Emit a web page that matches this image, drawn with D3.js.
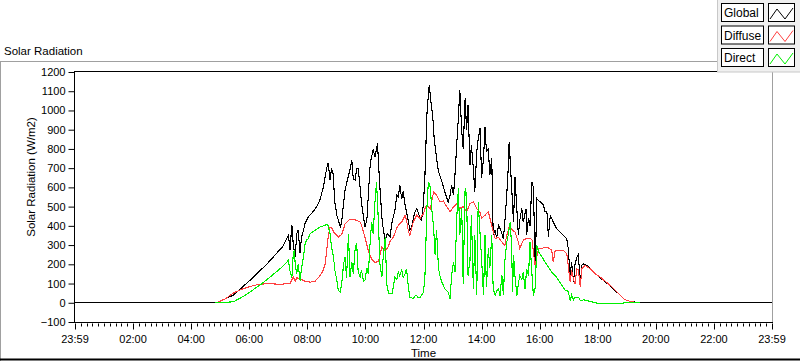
<!DOCTYPE html>
<html><head><meta charset="utf-8">
<script src="https://cdn.jsdelivr.net/npm/d3@7"></script>
<style>
html,body{margin:0;padding:0;background:#fff;}
svg{display:block;font-family:"Liberation Sans",Arial,sans-serif;}
</style></head>
<body><svg id="c" width="800" height="361"></svg>
<script>
// ---- data (time in minutes after midnight, values in W/m2) ----
const globalTime  = [0,290,293,327,362,396,430,441,444,448,451,455,458,461,465,468,472,475,482,489,499,506,513,520,523,527,530,533,537,541,544,548,551,555,558,561,565,568,572,575,579,582,585,589,592,596,599,603,606,610,613,616,620,625,629,634,637,641,645,651,655,661,665,668,671,675,678,682,685,689,692,696,699,702,706,709,713,716,720,723,727,730,732,735,737,740,742,747,751,754,758,764,771,775,778,782,785,789,792,795,799,802,806,809,812,816,819,823,826,830,833,837,840,844,847,850,854,857,861,864,868,871,875,878,882,885,888,892,895,897,901,906,909,913,916,919,923,926,932,933,937,940,944,947,951,954,958,961,968,971,975,978,982,988,995,1002,1009,1016,1019,1023,1026,1030,1033,1037,1040,1044,1047,1051,1057,1068,1085,1105,1123,1136,1147,1160,1167,1440];
const globalValue = [0,0,0,40,118,200,295,351,273,405,300,238,360,377,260,340,377,410,447,464,499,534,600,700,728,640,700,674,520,455,430,394,420,520,586,620,660,690,740,640,638,700,699,600,516,450,394,430,560,725,760,794,760,829,638,447,380,325,360,342,420,481,560,551,612,540,580,508,470,420,377,400,438,470,490,470,440,429,520,664,977,1080,1134,1050,1012,940,855,751,681,660,629,577,525,560,612,560,664,838,960,1108,890,800,1064,900,1029,716,820,700,577,786,850,908,650,751,916,786,800,664,751,351,380,334,403,386,360,334,420,560,700,838,650,420,655,480,351,430,490,420,490,351,440,400,629,600,177,542,530,525,508,473,473,342,455,420,386,368,351,334,282,142,212,107,200,238,250,90,195,203,195,168,130,90,47,16,7,3,0,0];

const diffuseTime  = [290,293,310,327,344,362,382,403,424,441,444,448,451,455,458,465,475,486,496,506,513,517,520,523,527,530,534,537,544,551,558,568,575,582,589,592,599,606,613,620,627,630,634,641,647,651,658,665,668,675,682,685,689,692,699,706,713,720,723,727,734,741,747,754,761,768,775,782,789,795,802,809,816,823,830,837,840,847,854,861,868,875,882,888,892,897,903,909,916,919,926,933,940,944,947,951,954,958,965,971,978,985,988,992,999,1009,1016,1019,1023,1026,1030,1033,1037,1040,1044,1047,1054,1064,1075,1085,1105,1123,1136,1147,1160,1167];
const diffuseValue = [0,0,20,50,70,85,97,99,96,100,99,120,134,110,130,125,112,107,112,140,170,203,270,342,394,390,370,360,342,355,410,435,432,429,420,403,340,270,225,210,215,250,290,270,290,320,342,390,403,420,455,430,368,351,420,455,438,464,490,508,490,577,560,525,530,499,473,499,516,490,500,473,516,525,490,470,438,455,473,403,334,340,316,299,351,394,380,368,316,282,325,334,334,330,264,186,240,282,282,290,285,273,212,270,273,273,256,195,107,170,120,99,177,170,81,177,195,177,151,134,92,48,16,7,2,0];

const directTime  = [290,293,327,345,366,386,407,428,441,444,448,451,453,455,458,461,465,468,472,475,478,482,486,496,506,517,520,523,527,530,534,537,541,544,548,551,555,558,561,565,568,572,575,579,582,585,589,592,596,599,603,606,610,613,616,620,623,627,630,634,637,641,644,648,651,655,658,661,665,668,671,675,678,682,685,689,692,699,702,706,709,713,716,720,723,727,730,734,737,741,744,747,751,754,758,764,771,775,778,782,785,789,792,795,799,802,806,809,812,816,819,823,826,830,833,837,840,844,847,850,854,857,861,864,868,871,875,878,882,885,888,892,895,899,902,904,906,909,913,916,919,923,926,930,933,937,940,944,947,951,954,958,965,971,978,985,992,999,1006,1013,1019,1023,1026,1030,1033,1040,1044,1051,1057,1078,1105,1126,1140,1160,1167];
const directValue = [0,0,5,29,64,99,142,186,221,168,130,260,273,200,151,200,116,180,238,300,325,334,360,377,394,403,408,400,360,290,238,168,116,64,55,100,203,238,130,360,134,210,150,290,308,160,134,170,110,116,180,150,325,420,360,534,630,412,203,134,250,342,99,47,50,47,90,134,120,160,140,170,130,150,177,73,29,21,35,38,25,29,40,55,142,490,629,600,490,386,247,380,177,140,107,73,55,21,142,212,160,455,595,351,490,100,595,560,142,220,455,73,351,38,525,351,229,38,351,80,282,180,351,73,38,60,73,38,142,38,212,316,351,420,300,55,247,140,38,100,142,120,160,70,177,140,316,150,38,80,299,264,238,212,186,160,142,116,90,64,60,12,40,15,29,29,12,15,12,-2,-5,-5,2,2,0];

const yTicks = [-100,0,100,200,300,400,500,600,700,800,900,1000,1100,1200];
const xTickMinutes = [0,120,240,360,480,600,720,840,960,1080,1200,1320,1440];
const xTickLabels = ["23:59","02:00","04:00","06:00","08:00","10:00","12:00","14:00","16:00","18:00","20:00","22:00","23:59"];
const legendNames = ["Global","Diffuse","Direct"];
const seriesColors = ["#000000","#ff4040","#00f000"];

// ---- drawing ----
const svg = d3.select("#c");
const L = 75, R = 772, T = 72, B = 322;
const x = d3.scaleLinear().domain([0,1440]).range([L,R]);
const y = d3.scaleLinear().domain([-100,1200]).range([B,T]);

// outer frame
svg.append("line").attr("x1",0).attr("x2",717).attr("y1",61.5).attr("y2",61.5).attr("stroke","#a0a0a0");
svg.append("line").attr("x1",0.5).attr("x2",0.5).attr("y1",61.5).attr("y2",361).attr("stroke","#a0a0a0");
svg.append("line").attr("x1",0).attr("x2",800).attr("y1",359.5).attr("y2",359.5).attr("stroke","#000").attr("stroke-width",2);

svg.append("text").attr("x",4).attr("y",55).attr("font-size",11.5).attr("fill","#000").text("Solar Radiation");

// plot border
svg.append("rect").attr("x",L).attr("y",T-0.5).attr("width",R-L).attr("height",B-T+0.5).attr("fill","#fff").attr("stroke","none");
svg.append("line").attr("x1",R+0.5).attr("x2",R+0.5).attr("y1",T-1).attr("y2",B).attr("stroke","#a0a0a0");

// clip
svg.append("clipPath").attr("id","clip").append("rect").attr("x",L).attr("y",T-2).attr("width",R-L).attr("height",B-T+2);

const g = svg.append("g").attr("clip-path","url(#clip)");
const line = d3.line().x(d=>x(d[0])).y(d=>y(d[1]));
const series = [
  d3.zip(globalTime, globalValue),
  d3.zip(diffuseTime, diffuseValue),
  d3.zip(directTime, directValue)
];
series.forEach((s,i)=>{
  g.append("path").datum(s).attr("d",line).attr("fill","none")
   .attr("stroke",seriesColors[i]).attr("stroke-width",1.1).attr("shape-rendering","crispEdges");
});

// y axis
const yAxis = d3.axisLeft(y).tickValues(yTicks).tickFormat(d3.format("d")).tickSize(6).tickPadding(3);
const ya = svg.append("g").attr("transform",`translate(${L-0.5},0)`).call(yAxis);
ya.select(".domain").attr("d",`M0,${T-1}V${B}`).attr("stroke","#000");
ya.selectAll("text").attr("font-size",11).attr("fill","#000").attr("font-family","Liberation Sans, Arial, sans-serif");
// top border
svg.append("line").attr("x1",L-1).attr("x2",R+1).attr("y1",T-0.5).attr("y2",T-0.5).attr("stroke","#000");

// x axis
const xa = svg.append("g").attr("transform",`translate(0,${B+0.5})`);
xa.append("line").attr("x1",L-1).attr("x2",R+1).attr("y1",0).attr("y2",0).attr("stroke","#000");
const minor = d3.range(0,1441,12);
xa.selectAll(".minor").data(minor).join("line").attr("class","minor")
  .attr("x1",d=>Math.round(x(d))+0.5).attr("x2",d=>Math.round(x(d))+0.5)
  .attr("y1",1).attr("y2",d=>xTickMinutes.includes(d)?7:4).attr("stroke","#000");
xa.selectAll(".lbl").data(xTickMinutes).join("text").attr("class","lbl")
  .attr("x",d=>x(d)).attr("y",20).attr("text-anchor","middle")
  .attr("font-size",11).attr("fill","#000").text((d,i)=>xTickLabels[i]);

// axis titles
svg.append("text").attr("x",(L+R)/2).attr("y",357).attr("text-anchor","middle").attr("font-size",11.5).text("Time");
svg.append("text").attr("transform",`translate(35,${(T+B)/2-20}) rotate(-90)`).attr("text-anchor","middle").attr("font-size",11.5).text("Solar Radiation (W/m2)");

// legend
const lg = svg.append("g");
lg.append("rect").attr("x",717.5).attr("y",-1).attr("width",84).attr("height",73).attr("fill","#f0f0f0").attr("stroke","#c8c8c8");
legendNames.forEach((n,i)=>{
  const y0 = 3 + i*22.5;
  lg.append("rect").attr("x",721.5).attr("y",y0+0.5).attr("width",42).attr("height",18).attr("fill","#fff").attr("stroke","#000");
  lg.append("text").attr("x",724).attr("y",y0+14).attr("font-size",12).attr("fill","#000").text(n);
  lg.append("rect").attr("x",768.5).attr("y",y0+0.5).attr("width",26).attr("height",18).attr("fill","#fff").attr("stroke","#000");
  lg.append("polyline").attr("points",[[770,y0+16],[777,y0+6],[785,y0+16],[793,y0+5]].map(p=>p.join(",")).join(" "))
    .attr("fill","none").attr("stroke",seriesColors[i]).attr("stroke-width",1);
});
</script></body></html>
